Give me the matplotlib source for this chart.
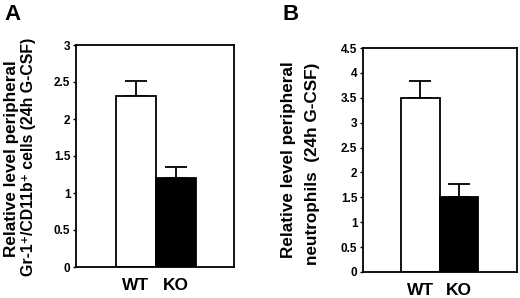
import matplotlib
matplotlib.use("Agg")
import matplotlib.pyplot as plt

# panel A: Gr-1+/CD11b+ cells
groups = ["WT", "KO"]
a_values = [2.31, 1.20]
a_errors = [0.21, 0.15]
a_ticks = [0, 0.5, 1, 1.5, 2, 2.5, 3]

# panel B: neutrophils
b_values = [3.50, 1.51]
b_errors = [0.33, 0.26]
b_ticks = [0, 0.5, 1, 1.5, 2, 2.5, 3, 3.5, 4, 4.5]

plt.rcParams["font.family"] = ["Liberation Sans", "DejaVu Sans"]
plt.rcParams["font.weight"] = "bold"

W, H = 520, 298


def px_axes(fig, left, top, right, bottom):
    return fig.add_axes([left / W, 1 - bottom / H, (right - left) / W, (bottom - top) / H])


def px_label(fig, x, y, text, size):
    fig.text(x / W, 1 - y / H, text, rotation=90, ha="center", va="center",
             fontsize=size, fontweight="bold")


def draw_panel(ax, values, errors, ticks, xlim):
    x = [0, 1]
    ax.bar(x, values, width=1.0, color=["white", "black"], edgecolor="black",
           linewidth=1.3, zorder=2)
    ax.errorbar(x, values, yerr=[[0, 0], errors], fmt="none", ecolor="black",
                elinewidth=1.3, capsize=8, capthick=1.3, zorder=1)
    ax.set_xlim(*xlim)
    ax.set_ylim(ticks[0], ticks[-1])
    ax.set_yticks(ticks)
    ax.set_yticklabels([f"{t:g}" for t in ticks], fontsize=8.5, fontweight="bold")
    ax.set_xticks(x)
    ax.set_xticklabels(groups, fontsize=12.5, fontweight="bold")
    ax.tick_params(axis="y", direction="out", length=2, width=1, pad=2)
    ax.tick_params(axis="x", length=0, pad=8)
    for s in ax.spines.values():
        s.set_linewidth(1.3)


fig = plt.figure(figsize=(W / 100, H / 100), dpi=100)

ax_a = px_axes(fig, 76, 45, 234, 267)
draw_panel(ax_a, a_values, a_errors, a_ticks, (-1.5, 2.45))
ax_b = px_axes(fig, 363, 48, 517, 272)
draw_panel(ax_b, b_values, b_errors, b_ticks, (-1.49, 2.51))

fig.text(4 / W, 1 - 4 / H, "A", fontsize=16, fontweight="bold", va="top", ha="left")
fig.text(283 / W, 1 - 4 / H, "B", fontsize=16, fontweight="bold", va="top", ha="left")

px_label(fig, 12, 159, "Relative level peripheral", 12.3)
px_label(fig, 29, 157, "Gr-1\u207a/CD11b\u207a cells (24h G-CSF)", 11.4)
px_label(fig, 289, 160, "Relative level peripheral", 12.3)
px_label(fig, 313, 164, "neutrophils  (24h G-CSF)", 12.3)

fig.savefig("out.png", dpi=100)
